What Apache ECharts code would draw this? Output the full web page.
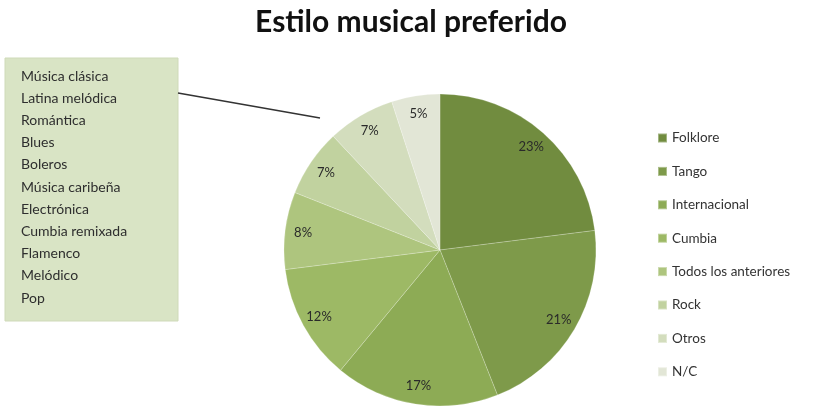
<!DOCTYPE html>
<html><head><meta charset="utf-8">
<script src="https://cdn.jsdelivr.net/npm/echarts@6/dist/echarts.min.js"></script>
<style>html,body{margin:0;padding:0;background:#fff}#c{width:825px;height:414px}</style>
</head><body><div id="c"></div>
<script>
const categories = ['Folklore','Tango','Internacional','Cumbia','Todos los anteriores','Rock','Otros','N/C'];
const values = [23,21,17,12,8,7,7,5];
const colors = ['#718c3f','#7e9a4a','#8dab55','#9db965','#aec57e','#c1d29f','#d3ddbd','#e2e6d6'];
const otrosList = ['Música clásica','Latina melódica','Romántica','Blues','Boleros','Música caribeña','Electrónica','Cumbia remixada','Flamenco','Melódico','Pop'];

const FONT = 'Lato, "Open Sans", sans-serif';
const chart = echarts.init(document.getElementById('c'));
const data = categories.map((n,i)=>({name:n, value:values[i], itemStyle:{color:colors[i]}}));
const labelData = categories.map((n,i)=>({name:n, value:values[i]}));

const boxTexts = otrosList.map((t,i)=>({
  type:'text', left:21, top:69 + i*22.2,
  style:{text:t, font:'14px '+FONT, fill:'#2e2e2e'}
}));

chart.setOption({
  animation:false,
  title:{text:'Estilo musical preferido', left:406, textAlign:'center', top:2, textStyle:{fontFamily:FONT, fontWeight:'bold', fontSize:30, color:'#111'}},
  legend:{
    orient:'vertical', left:652, top:126, itemWidth:9, itemHeight:9, itemGap:19.4,
    data:categories, icon:'rect',
    textStyle:{fontFamily:FONT, fontSize:13.5, color:'#333'}
  },
  graphic:[
    {type:'rect', shape:{x:5, y:58, width:173, height:263}, style:{fill:'#d9e4c5', stroke:'#cfdab9', lineWidth:1}},
    {type:'line', shape:{x1:178, y1:93, x2:320, y2:118}, style:{stroke:'#333', lineWidth:1.5}}
  ].concat(boxTexts),
  series:[
    {
      type:'pie', center:[440,250], radius:[0,156], startAngle:90, clockwise:true,
      data:data, label:{show:false}, labelLine:{show:false},
      itemStyle:{borderColor:'rgba(255,255,255,0.35)', borderWidth:0.6},
      emphasis:{disabled:true}, silent:true
    },
    {
      type:'pie', center:[440,250], radius:[0,270], startAngle:90, clockwise:true,
      data:labelData, itemStyle:{color:'transparent'},
      label:{show:true, position:'inside', formatter:'{c}%', fontFamily:FONT, fontSize:13, color:'#2a2a2a'},
      labelLine:{show:false}, emphasis:{disabled:true}, silent:true, legendHoverLink:false
    }
  ]
});
</script></body></html>
